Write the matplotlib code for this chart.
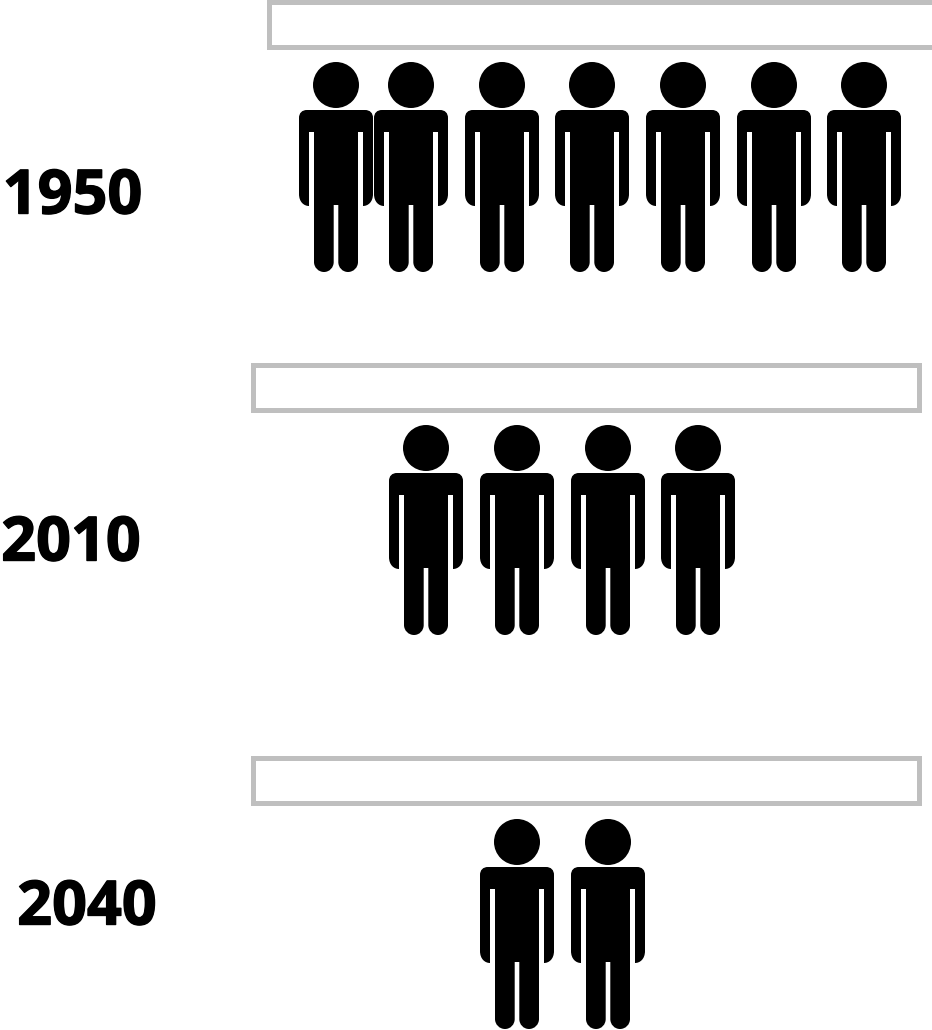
#!/usr/bin/env python3
import matplotlib
matplotlib.use('Agg')
import matplotlib.pyplot as plt
import matplotlib.patheffects as pe
from matplotlib.patches import Circle, PathPatch, Rectangle
from matplotlib.path import Path

years = ['1950', '2010', '2040']
people_counts = [7, 4, 2]

# layout, in pixels of the 932x1030 picture
person_x = [
    [336, 411, 502, 592, 683, 774, 864],
    [426, 517, 608, 698],
    [517, 608],
]
body_top = [110, 473, 867]
box_left = [268.5, 253, 253]
box_right = [945, 919, 919]
box_top = [1.5, 364.5, 758]
label_x = [72.5, 71, 87]
label_y = [198, 545, 909]

GREY = '#BFBFBF'


def person_path(cx, top):
    """Body outline, without the head, as a single closed path"""
    L, C = Path.LINETO, Path.CURVE4
    k = 5.5  # control distance for the round leg ends
    pts = [
        ((29, 0), L), ((34, 0), C), ((37, 3), C), ((37, 8), C),
        ((37, 84), L), ((37, 92), C), ((32, 96), C), ((27, 96), C),
        ((27, 22), L), ((22, 22), L),
        ((22, 152), L), ((22, 152 + k), C), ((12 + k, 162), C), ((12, 162), C),
        ((12 - k, 162), C), ((2.3, 152 + k), C), ((2.3, 152), C),
        ((2.3, 95), L),
        ((-2.3, 95), L), ((-2.3, 152), L),
        ((-2.3, 152 + k), C), ((-12 + k, 162), C), ((-12, 162), C),
        ((-12 - k, 162), C), ((-22, 152 + k), C), ((-22, 152), C),
        ((-22, 22), L), ((-27, 22), L),
        ((-27, 96), L), ((-32, 96), C), ((-37, 92), C), ((-37, 84), C),
        ((-37, 8), L), ((-37, 3), C), ((-34, 0), C), ((-29, 0), C),
    ]
    verts = [(cx - 29, top)] + [(cx + p[0], top + p[1]) for p, _ in pts] + [(cx - 29, top)]
    codes = [Path.MOVETO] + [c for _, c in pts] + [Path.CLOSEPOLY]
    return Path(verts, codes)


fig = plt.figure(figsize=(9.32, 10.3), dpi=100)
ax = fig.add_axes([0, 0, 1, 1])
ax.set_xlim(0, 932)
ax.set_ylim(1030, 0)
ax.axis('off')

for i, year in enumerate(years):
    # thin stroke to get the heavier weight of the original digits
    ax.text(label_x[i], label_y[i], year, fontsize=44, fontweight='bold',
            family='Open Sans', ha='center', va='center', color='black',
            path_effects=[pe.withStroke(linewidth=1.0, foreground='black')])
    ax.add_patch(Rectangle((box_left[i], box_top[i]), box_right[i] - box_left[i], 45,
                           facecolor='white', edgecolor=GREY, linewidth=3.6))
    for cx in person_x[i][:people_counts[i]]:
        ax.add_patch(PathPatch(person_path(cx, body_top[i]), facecolor='black', edgecolor='none'))
        ax.add_patch(Circle((cx, body_top[i] - 25), 23, facecolor='black', edgecolor='none'))

fig.savefig('out.png', dpi=100)
